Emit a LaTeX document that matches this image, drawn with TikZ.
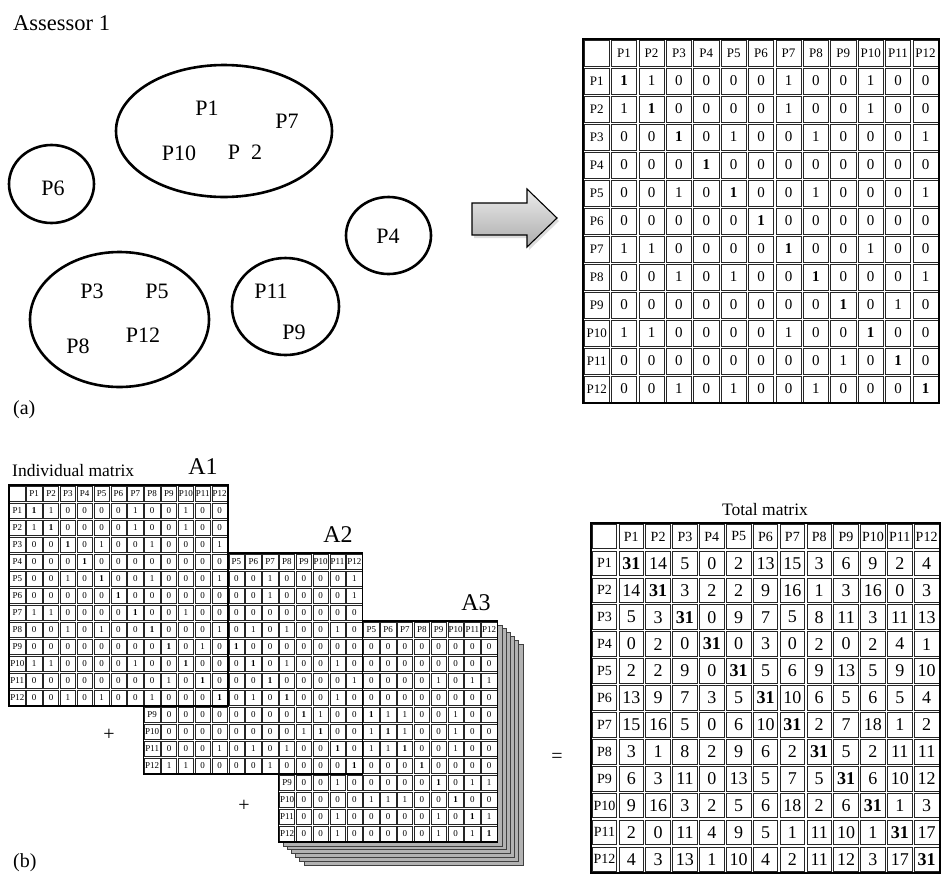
\documentclass[tikz,border=0pt]{standalone}
\usepackage{fontspec}
\setmainfont{Liberation Serif}
\usetikzlibrary{shapes.geometric}

\newcommand\fs[1]{\fontsize{#1}{#1}\selectfont}

% 13x13 table: #1 name, #2 left, #3 top, #4 cell width, #5 cell height,
% #6 number of leading columns covered in rows 0..8 (-1: none), #7 rows
\newcommand\gridtable[7]{%
  \def\gtname{#1}\def\gtx{#2}\def\gty{#3}\def\gtw{#4}\def\gth{#5}\def\gthide{#6}%
  \edef\gtrows{#7}%
  \fill[white] (\gtx,\gty) rectangle ({\gtx+13*\gtw},{\gty+13*\gth});
  \foreach \r in {0,...,12}{%
    \foreach \c in {0,...,12}{%
      \draw[cellline] ({\gtx+\c*\gtw+\gtin},{\gty+\r*\gth+\gtin}) rectangle
        ({\gtx+(\c+1)*\gtw-\gtin},{\gty+(\r+1)*\gth-\gtin});
    }%
  }%
  \draw[frameline] (\gtx,\gty) rectangle ({\gtx+13*\gtw},{\gty+13*\gth});
  \foreach \c in {1,...,12}{%
    \ifnum\c>\gthide
      \node[lab] (\gtname-0-\c) at ({\gtx+(\c+0.5)*\gtw},{\gty+0.5*\gth}) {P\c};
    \fi
  }%
  \foreach \row [count=\r] in \gtrows {%
    \ifnum\r>8 \def\rowshow{1}\else\ifnum\gthide<0 \def\rowshow{1}\else\def\rowshow{0}\fi\fi
    \ifnum\rowshow=1
      \node[lab] (\gtname-\r-0) at ({\gtx+0.5*\gtw},{\gty+(\r+0.5)*\gth}) {P\r};
    \fi
    \foreach \v [count=\c] in \row {%
      \ifnum\r>8 \def\cellshow{1}\else\ifnum\c>\gthide \def\cellshow{1}\else\def\cellshow{0}\fi\fi
      \ifnum\cellshow=1
        \ifnum\r=\c
          \node[bnum] (\gtname-\r-\c) at ({\gtx+(\c+0.5)*\gtw},{\gty+(\r+0.5)*\gth}) {\v};
        \else
          \node[num] (\gtname-\r-\c) at ({\gtx+(\c+0.5)*\gtw},{\gty+(\r+0.5)*\gth}) {\v};
        \fi
      \fi
    }%
  }%
}

% similarity matrix of assessor 1
\newcommand\assessorone{%
  {1,1,0,0,0,0,1,0,0,1,0,0},
  {1,1,0,0,0,0,1,0,0,1,0,0},
  {0,0,1,0,1,0,0,1,0,0,0,1},
  {0,0,0,1,0,0,0,0,0,0,0,0},
  {0,0,1,0,1,0,0,1,0,0,0,1},
  {0,0,0,0,0,1,0,0,0,0,0,0},
  {1,1,0,0,0,0,1,0,0,1,0,0},
  {0,0,1,0,1,0,0,1,0,0,0,1},
  {0,0,0,0,0,0,0,0,1,0,1,0},
  {1,1,0,0,0,0,1,0,0,1,0,0},
  {0,0,0,0,0,0,0,0,1,0,1,0},
  {0,0,1,0,1,0,0,1,0,0,0,1}}

\tikzset{
  grp/.style={draw, ellipse, line width=2.6pt, inner sep=0pt},
  plab/.style={font=\fs{22}, inner sep=0pt},
  caption/.style={font=\fs{20}, inner sep=0pt},
  bigletter/.style={font=\fs{24}, inner sep=0pt},
  opsign/.style={font=\fs{20}, inner sep=0pt},
  stackline/.style={fill=gray!60, draw=black!75, line width=0.6pt},
  bigtab/.style={
    cellline/.style={draw=black!85, line width=0.8pt},
    frameline/.style={draw=black, line width=1.8pt}},
  smalltab/.style={
    cellline/.style={draw=black!85, line width=0.5pt},
    frameline/.style={draw=black, line width=1.2pt},
    lab/.style={font=\fs{9}, inner sep=0pt},
    num/.style={font=\fs{9}, inner sep=0pt},
    bnum/.style={font=\fs{9}\bfseries, inner sep=0pt}}
}

\begin{document}
\begin{tikzpicture}[x=1pt, y=-1pt]
\useasboundingbox (0,0) rectangle (942,876);
\fill[white] (0,0) rectangle (942,876);

% ---------- (a) groupings of assessor 1 ----------
\node[font=\fs{22.5}, anchor=base west, inner sep=0pt] (title) at (13,30) {Assessor 1};

\node[grp, minimum width=216pt, minimum height=132pt] (g1) at (224,131) {};
\node[grp, minimum width=85pt, minimum height=78pt] (g2) at (51.5,184) {};
\node[grp, minimum width=85pt, minimum height=77pt] (g3) at (388.5,235.5) {};
\node[grp, minimum width=179pt, minimum height=135pt] (g4) at (119.5,319.5) {};
\node[grp, minimum width=107pt, minimum height=97pt] (g5) at (285.5,306.5) {};

\node[plab] (p1) at (207,108) {P1};
\node[plab] (p7) at (287,121) {P7};
\node[plab] (p10) at (179,153) {P10};
\node[plab] (p12a) at (245,152) {P\phantom{1}2};
\node[plab] (p6) at (53,188) {P6};
\node[plab] (p4) at (388,236) {P4};
\node[plab] (p3) at (92,291) {P3};
\node[plab] (p5) at (157,291) {P5};
\node[plab] (p8) at (78,346) {P8};
\node[plab] (p12) at (143,335) {P12};
\node[plab] (p11) at (271,291) {P11};
\node[plab] (p9) at (294,332) {P9};

% block arrow
\fill[gray!45, opacity=0.6] (474,206) -- (529,206) -- (529,192) -- (559,221) -- (529,250) -- (529,238) -- (474,238) -- cycle;
\shadedraw[top color=gray!15, bottom color=gray!65, draw=black, line width=1.1pt, line join=miter]
  (472,203) -- (527,203) -- (527,189) -- (557,218) -- (527,247) -- (527,235) -- (472,235) -- cycle;

\begin{scope}[bigtab,
  lab/.style={font=\fs{13}, inner sep=0pt},
  num/.style={font=\fs{15}, inner sep=0pt},
  bnum/.style={font=\fs{15}\bfseries, inner sep=0pt}]
  \def\gtin{1.1}
  \gridtable{ma}{583}{39}{27.4}{28}{-1}{\assessorone}
\end{scope}

\node[caption, anchor=base west] (cap-a) at (13,414) {(a)};

% ---------- (b) summing individual matrices ----------
\node[font=\fs{17.5}, anchor=base west, inner sep=0pt] (indiv) at (12,476) {Individual matrix};
\node[bigletter] (a1) at (203,467) {A1};
\node[bigletter] (a2) at (338,535) {A2};
\node[bigletter] (a3) at (476,603) {A3};

% stacked sheets behind A3
\foreach \k in {6,5,...,1}{%
  \draw[stackline] ({278.6+4.2*\k},{621+3.8*\k}) rectangle ++(219.05,221);
}

\begin{scope}[smalltab]
  \def\gtin{0.75}
  \gridtable{mc}{278.6}{621}{16.85}{17}{4}{%
    {x,x,x,x,0,0,0,0,0,0,0,0},
    {x,x,x,x,0,0,0,0,0,0,0,0},
    {x,x,x,x,0,0,0,0,1,0,1,1},
    {x,x,x,x,0,0,0,0,0,0,0,0},
    {x,x,x,x,1,1,1,0,0,1,0,0},
    {x,x,x,x,1,1,1,0,0,1,0,0},
    {x,x,x,x,1,1,1,0,0,1,0,0},
    {x,x,x,x,0,0,0,1,0,0,0,0},
    {0,0,1,0,0,0,0,0,1,0,1,1},
    {0,0,0,0,1,1,1,0,0,1,0,0},
    {0,0,1,0,0,0,0,0,1,0,1,1},
    {0,0,1,0,0,0,0,0,1,0,1,1}}
  \gridtable{mb}{143.75}{553}{16.85}{17}{4}{%
    {x,x,x,x,0,0,1,0,0,0,0,1},
    {x,x,x,x,0,0,1,0,0,0,0,1},
    {x,x,x,x,0,0,0,0,0,0,0,0},
    {x,x,x,x,0,1,0,1,0,0,1,0},
    {x,x,x,x,1,0,0,0,0,0,0,0},
    {x,x,x,x,0,1,0,1,0,0,1,0},
    {x,x,x,x,0,0,1,0,0,0,0,1},
    {x,x,x,x,0,1,0,1,0,0,1,0},
    {0,0,0,0,0,0,0,0,1,1,0,0},
    {0,0,0,0,0,0,0,0,1,1,0,0},
    {0,0,0,1,0,1,0,1,0,0,1,0},
    {1,1,0,0,0,0,1,0,0,0,0,1}}
  \gridtable{mm}{8.9}{485}{16.85}{17}{-1}{\assessorone}
\end{scope}

\node[opsign] (plus1) at (109,735) {+};
\node[opsign] (plus2) at (244,806) {+};
\node[opsign] (eq) at (557,758) {=};

\node[font=\fs{17.5}, inner sep=0pt] (totcap) at (765,510) {Total matrix};
\begin{scope}[bigtab,
  lab/.style={font=\fs{14}, inner sep=0pt},
  num/.style={font=\fs{18}, inner sep=0pt},
  bnum/.style={font=\fs{18}\bfseries, inner sep=0pt}]
  \def\gtin{1.1}
  \gridtable{mt}{591}{523}{26.85}{26.9}{-1}{%
    {31,14,5,0,2,13,15,3,6,9,2,4},
    {14,31,3,2,2,9,16,1,3,16,0,3},
    {5,3,31,0,9,7,5,8,11,3,11,13},
    {0,2,0,31,0,3,0,2,0,2,4,1},
    {2,2,9,0,31,5,6,9,13,5,9,10},
    {13,9,7,3,5,31,10,6,5,6,5,4},
    {15,16,5,0,6,10,31,2,7,18,1,2},
    {3,1,8,2,9,6,2,31,5,2,11,11},
    {6,3,11,0,13,5,7,5,31,6,10,12},
    {9,16,3,2,5,6,18,2,6,31,1,3},
    {2,0,11,4,9,5,1,11,10,1,31,17},
    {4,3,13,1,10,4,2,11,12,3,17,31}}
\end{scope}

\node[caption, anchor=base west] (cap-b) at (13,867) {(b)};
\end{tikzpicture}
\end{document}
